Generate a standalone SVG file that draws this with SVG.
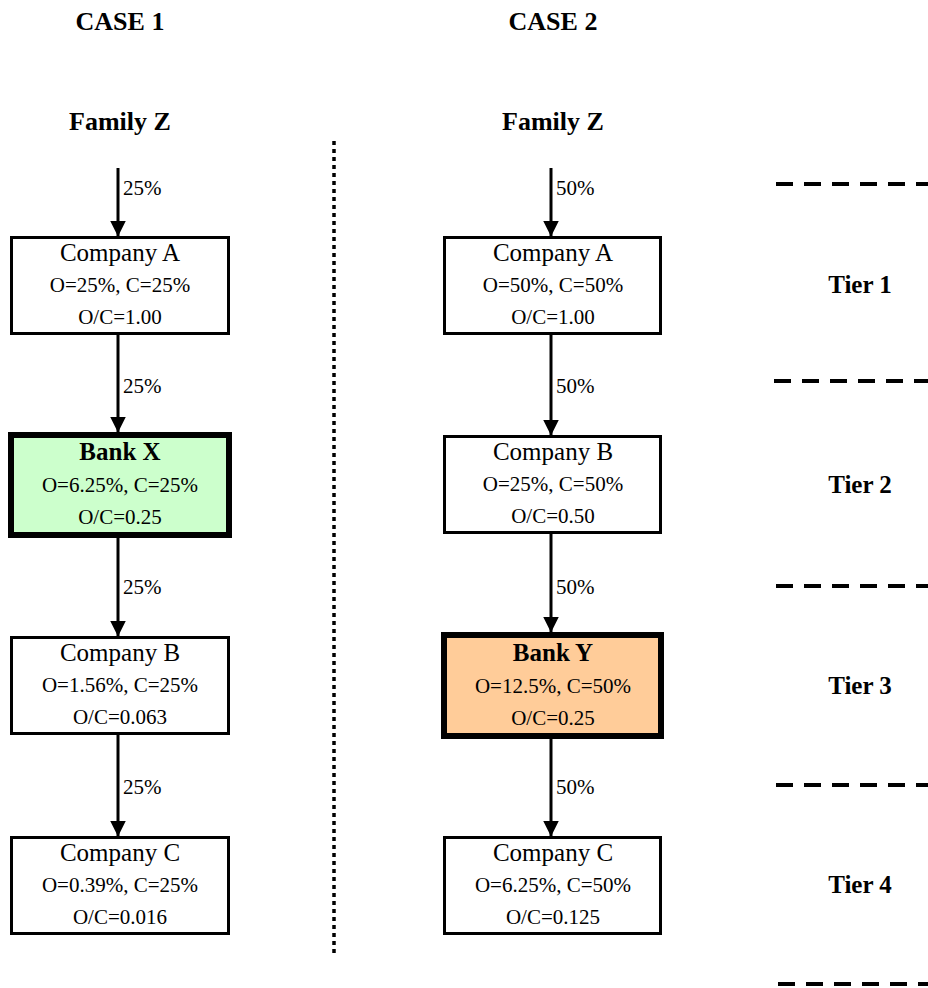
<svg xmlns="http://www.w3.org/2000/svg" width="928" height="988" viewBox="0 0 928 988">
<defs>
<marker id="ah" markerWidth="16" markerHeight="17" refX="15.5" refY="8" orient="auto" markerUnits="userSpaceOnUse">
<path d="M0,0 L16,8 L0,16 Z" fill="#000"/>
</marker>
<style>
text{font-family:"Liberation Serif","Times New Roman",serif;fill:#000}
.h{font-size:26px;font-weight:bold;text-anchor:middle}
.t{font-size:25px;font-weight:bold;text-anchor:middle}
.n{font-size:25px;text-anchor:middle}
.nb{font-size:25px;font-weight:bold;text-anchor:middle}
.s{font-size:21px;text-anchor:middle}
.p{font-size:21px}
.box{fill:#fff;stroke:#000;stroke-width:3}
.bank{stroke:#000;stroke-width:6}
.c{stroke:#000;stroke-width:3;fill:none;marker-end:url(#ah)}
.dash{stroke:#000;stroke-width:4;stroke-dasharray:17 11}
</style>
</defs>
<g id="headers">
<text class="h" x="120" y="30">CASE 1</text>
<text class="h" x="553" y="30">CASE 2</text>
<text class="h" x="120" y="130">Family Z</text>
<text class="h" x="553" y="130">Family Z</text>
</g>
<g id="divider"><line x1="334" y1="141" x2="334" y2="954" stroke="#000" stroke-width="3.5" stroke-dasharray="4 4"/></g>
<g id="tiers">
<line class="dash" x1="776" y1="184" x2="928" y2="184"/>
<line class="dash" x1="774" y1="381" x2="928" y2="381"/>
<line class="dash" x1="776" y1="586" x2="928" y2="586"/>
<line class="dash" x1="776" y1="785" x2="928" y2="785"/>
<line class="dash" x1="778" y1="984" x2="928" y2="984"/>
<text class="t" x="860" y="293">Tier 1</text>
<text class="t" x="860" y="493">Tier 2</text>
<text class="t" x="860" y="694">Tier 3</text>
<text class="t" x="860" y="893">Tier 4</text>
</g>
<g id="connectors">
<line class="c" x1="118" y1="168" x2="118" y2="236"/>
<line class="c" x1="118" y1="334" x2="118" y2="432"/>
<line class="c" x1="118" y1="538" x2="118" y2="636"/>
<line class="c" x1="118" y1="734" x2="118" y2="836"/>
<line class="c" x1="551" y1="168" x2="551" y2="236"/>
<line class="c" x1="551" y1="334" x2="551" y2="435"/>
<line class="c" x1="551" y1="533" x2="551" y2="632"/>
<line class="c" x1="551" y1="739" x2="551" y2="836"/>
<text class="p" x="123" y="195">25%</text>
<text class="p" x="123" y="393">25%</text>
<text class="p" x="123" y="594">25%</text>
<text class="p" x="123" y="794">25%</text>
<text class="p" x="556" y="195">50%</text>
<text class="p" x="556" y="393">50%</text>
<text class="p" x="556" y="594">50%</text>
<text class="p" x="556" y="794">50%</text>
</g>
<g id="c1-companyA">
<rect class="box" x="11.5" y="237.5" width="217" height="96"/>
<text class="n" x="120" y="261">Company A</text>
<text class="s" x="120" y="292">O=25%, C=25%</text>
<text class="s" x="120" y="324">O/C=1.00</text>
</g>
<g id="c1-bankX">
<rect class="bank" x="11" y="435" width="218" height="100" fill="#ccffcc"/>
<text class="nb" x="120" y="460">Bank X</text>
<text class="s" x="120" y="492">O=6.25%, C=25%</text>
<text class="s" x="120" y="524">O/C=0.25</text>
</g>
<g id="c1-companyB">
<rect class="box" x="11.5" y="637.5" width="217" height="96"/>
<text class="n" x="120" y="661">Company B</text>
<text class="s" x="120" y="692">O=1.56%, C=25%</text>
<text class="s" x="120" y="724">O/C=0.063</text>
</g>
<g id="c1-companyC">
<rect class="box" x="11.5" y="837.5" width="217" height="96"/>
<text class="n" x="120" y="861">Company C</text>
<text class="s" x="120" y="892">O=0.39%, C=25%</text>
<text class="s" x="120" y="924">O/C=0.016</text>
</g>
<g id="c2-companyA">
<rect class="box" x="444.5" y="237.5" width="216" height="96"/>
<text class="n" x="553" y="261">Company A</text>
<text class="s" x="553" y="292">O=50%, C=50%</text>
<text class="s" x="553" y="324">O/C=1.00</text>
</g>
<g id="c2-companyB">
<rect class="box" x="444.5" y="436.5" width="216" height="96"/>
<text class="n" x="553" y="460">Company B</text>
<text class="s" x="553" y="491">O=25%, C=50%</text>
<text class="s" x="553" y="523">O/C=0.50</text>
</g>
<g id="c2-bankY">
<rect class="bank" x="444" y="635" width="217" height="101" fill="#ffcc99"/>
<text class="nb" x="553" y="661">Bank Y</text>
<text class="s" x="553" y="693">O=12.5%, C=50%</text>
<text class="s" x="553" y="725">O/C=0.25</text>
</g>
<g id="c2-companyC">
<rect class="box" x="444.5" y="837.5" width="216" height="96"/>
<text class="n" x="553" y="861">Company C</text>
<text class="s" x="553" y="892">O=6.25%, C=50%</text>
<text class="s" x="553" y="924">O/C=0.125</text>
</g>
</svg>
